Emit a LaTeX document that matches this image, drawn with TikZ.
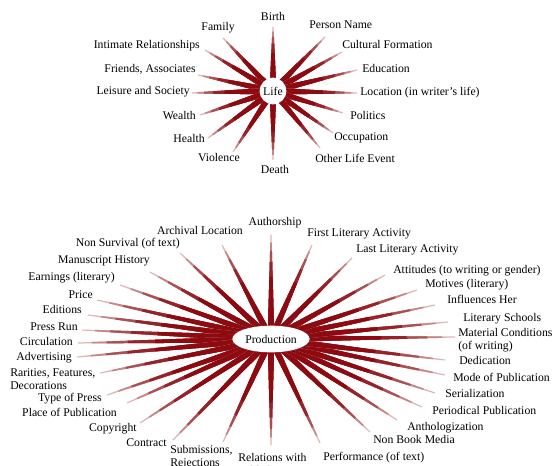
\documentclass[tikz,border=0pt]{standalone}
\usepackage{fontspec}
\setmainfont{Liberation Serif}
\usetikzlibrary{calc,shapes.geometric,backgrounds}
\definecolor{spk}{HTML}{8C0A10}
\tikzset{
  lbl/.style={font=\fontsize{8.8}{10}\selectfont, inner sep=0pt, text height=1.55ex, text depth=0.35ex},
  lbltwo/.style={font=\fontsize{8.8}{9.6}\selectfont, inner sep=0pt, align=left},
  hubc/.style={circle, fill=white, inner sep=0pt, minimum size=20pt, font=\fontsize{8.8}{10}\selectfont},
  hube/.style={ellipse, fill=white, inner sep=0pt, minimum width=58pt, minimum height=20pt, font=\fontsize{8.8}{10}\selectfont},
}
% wedge from #1 to fraction #3 of the way to #2, colour #4
\newcommand\mywedge[4]{%
  \pgfmathsetmacro\wa{2.5}%
  \pgfmathsetmacro\wb{2.5-2.1*#3}%
  \fill[#4] ($(#1)!\wa pt!90:(#2)$) -- ($(#1)!#3!(#2)!\wb pt!-90:(#1)$) --
    ($(#1)!#3!(#2)!\wb pt!90:(#1)$) -- ($(#1)!\wa pt!-90:(#2)$) -- cycle;}
\newcommand\myspoke[2]{%
  \mywedge{#1}{#2}{1}{spk!30}%
  \mywedge{#1}{#2}{0.93}{spk!50}%
  \mywedge{#1}{#2}{0.85}{spk!72}%
  \mywedge{#1}{#2}{0.74}{spk!90}%
  \mywedge{#1}{#2}{0.6}{spk}}
\begin{document}
\begin{tikzpicture}[x=0.75pt,y=-0.75pt]
\useasboundingbox (0,0) rectangle (556,466);
\clip (0,0) rectangle (556,466);

% hubs
\node[hubc] (life) at (273,91) {Life};
\node[hube] (prod) at (271,339) {Production};

% spokes
\begin{scope}[on background layer]
\fill[white] (0,0) rectangle (556,466);
\foreach \nm/\x/\y in {lf/223/38, li/205/50, lfr/198/75, lle/192/93, lw/200/115, lh/208/138, lv/233/152,
  lb/273/27, ld/273/160, lp/325/37, lc/342/52, led/357/70, llo/357/93, lpo/343/113, loc/333/133, lot/320/148}
  {\coordinate (\nm) at (\x,\y); \myspoke{life}{\nm}}
\foreach \nm/\x/\y in {pau/271/235, par/222/245, pns/180/253, pmh/150/272, pea/120/285, ppr/97/300, ped/88/315,
  prun/82/330, pci/78/343, pad/77/357, pra/100/373, pty/107/395, ppl/127/403, pco/140/423, pct/173/440,
  psu/223/442, pre/271/445, ppe/320/443, pnb/370/432, pan/397/420, ppp/422/407, pse/435/393, pmo/445/375,
  pde/445/360, pma/455/337, pls/448/322, pin/435/305, pmt/417/290, pat/385/275, pla/352/258, pfi/312/245}
  {\coordinate (\nm) at (\x,\y); \myspoke{prod}{\nm}}
\end{scope}

% Life labels
\node[lbl, anchor=east] (tf) at (235,27) {Family};
\node[lbl, anchor=east] (ti) at (200,45) {Intimate Relationships};
\node[lbl, anchor=east] (tfr) at (196,69) {Friends, Associates};
\node[lbl, anchor=east] (tle) at (190,91) {Leisure and Society};
\node[lbl, anchor=east] (tw) at (196,116) {Wealth};
\node[lbl, anchor=east] (th) at (205,139) {Health};
\node[lbl, anchor=east] (tv) at (240,158) {Violence};
\node[lbl] (tb) at (273,17) {Birth};
\node[lbl] (td) at (275,170) {Death};
\node[lbl, anchor=west] (tp) at (309,25) {Person Name};
\node[lbl, anchor=west] (tc) at (342,45) {Cultural Formation};
\node[lbl, anchor=west] (ted) at (362,69) {Education};
\node[lbl, anchor=west] (tlo) at (360,92) {Location (in writer’s life)};
\node[lbl, anchor=west] (tpo) at (350,116) {Politics};
\node[lbl, anchor=west] (toc) at (334,137) {Occupation};
\node[lbl, anchor=west] (tot) at (315,159) {Other Life Event};

% Production labels
\node[lbl] (qau) at (275,222) {Authorship};
\node[lbl, anchor=east] (qar) at (243,231) {Archival Location};
\node[lbl, anchor=east] (qns) at (180,243) {Non Survival (of text)};
\node[lbl, anchor=east] (qmh) at (150,260) {Manuscript History};
\node[lbl, anchor=east] (qea) at (115,277) {Earnings (literary)};
\node[lbl, anchor=east] (qpr) at (93,295) {Price};
\node[lbl, anchor=east] (qed) at (82,310) {Editions};
\node[lbl, anchor=east] (qrun) at (78,327) {Press Run};
\node[lbl, anchor=east] (qci) at (73,342) {Circulation};
\node[lbl, anchor=east] (qad) at (72,357) {Advertising};
\node[lbltwo, anchor=west] (qra) at (10,379) {Rarities, Features,\\Decorations};
\node[lbl, anchor=east] (qty) at (102,398) {Type of Press};
\node[lbl, anchor=east] (qpl) at (117,413) {Place of Publication};
\node[lbl, anchor=east] (qco) at (137,428) {Copyright};
\node[lbl, anchor=east] (qct) at (167,443) {Contract};
\node[lbltwo, anchor=west] (qsu) at (170,457) {Submissions,\\Rejections};
\node[lbltwo, anchor=west] (qre) at (238,464) {Relations with\\Publishers};
\node[lbl, anchor=west] (qpe) at (323,457) {Performance (of text)};
\node[lbl, anchor=west] (qnb) at (373,440) {Non Book Media};
\node[lbl, anchor=west] (qan) at (407,427) {Anthologization};
\node[lbl, anchor=west] (qpp) at (432,411) {Periodical Publication};
\node[lbl, anchor=west] (qse) at (445,394) {Serialization};
\node[lbl, anchor=west] (qmo) at (453,378) {Mode of Publication};
\node[lbl, anchor=west] (qde) at (459,361) {Dedication};
\node[lbltwo, anchor=west] (qma) at (458,340) {Material Conditions\\(of writing)};
\node[lbl, anchor=west] (qls) at (463,318) {Literary Schools};
\node[lbl, anchor=west] (qin) at (447,300) {Influences Her};
\node[lbl, anchor=west] (qmt) at (425,284) {Motives (literary)};
\node[lbl, anchor=west] (qat) at (393,270) {Attitudes (to writing or gender)};
\node[lbl, anchor=west] (qla) at (356,249) {Last Literary Activity};
\node[lbl, anchor=west] (qfi) at (307,233) {First Literary Activity};
\end{tikzpicture}
\end{document}
